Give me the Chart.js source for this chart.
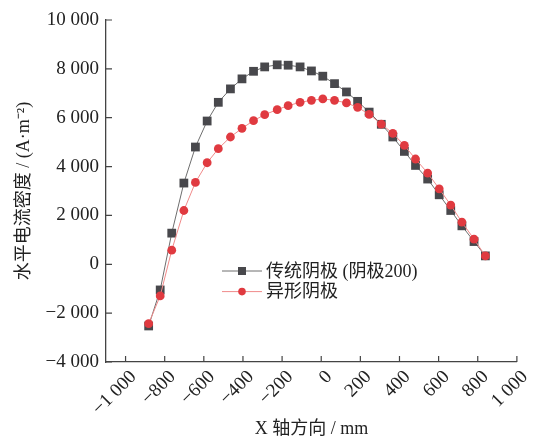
<!DOCTYPE html>
<html><head><meta charset="utf-8">
<script src="https://cdn.jsdelivr.net/npm/chart.js@4.4.0/dist/chart.umd.min.js"></script>
<style>html,body{margin:0;padding:0;background:#fff}#wrap{width:537px;height:441px;position:relative}</style>
</head><body><div id="wrap"><canvas id="c" width="537" height="441"></canvas></div>
<script>
// X positions (mm)
const xPositions = [-882, -823, -764, -702, -643, -583, -526, -464, -405, -346, -289, -225, -169, -108, -50,
  8, 68, 129, 186, 245, 307, 366, 425, 482, 544, 603, 662, 719, 781, 839];
// 传统阴极 (阴极200)
const conventional = [-2525, -1050, 1275, 3325, 4800, 5865, 6630, 7180, 7590, 7900, 8080, 8165, 8150, 8080, 7915,
  7700, 7395, 7055, 6670, 6230, 5730, 5211, 4621, 4047, 3489, 2845, 2202, 1574, 931, 344];
// 异形阴极
const shaped = [-2431, -1296, 578, 2202, 3350, 4157, 4731, 5211, 5564, 5880, 6125, 6330, 6494, 6630, 6712,
  6770, 6712, 6605, 6425, 6140, 5740, 5359, 4867, 4309, 3735, 3091, 2423, 1726, 1029, 344];
const seriesLabels = ['传统阴极 (阴极200)', '异形阴极'];
const xTicks = [-1000, -800, -600, -400, -200, 0, 200, 400, 600, 800, 1000];
const yTicks = [-4000, -2000, 0, 2000, 4000, 6000, 8000, 10000];
const xTitle = 'X 轴方向 / mm';
const yTitle = '水平电流密度 / (A·m⁻²)';

const FONT = "'Liberation Serif', 'Noto Sans CJK SC', serif";
const fmt = v => (v < 0 ? '\u2212' : '') + Math.abs(v).toString().replace(/\B(?=(\d{3})+(?!\d))/g, ' ');
const pts = arr => arr.map((y, i) => ({x: xPositions[i], y}));

const innerTicks = {
  id: 'innerTicks',
  afterDraw(chart) {
    const {ctx, chartArea: a, scales: {x, y}} = chart;
    ctx.save();
    ctx.strokeStyle = '#444';
    ctx.lineWidth = 1.2;
    ctx.beginPath();
    x.ticks.forEach(t => { const p = x.getPixelForValue(t.value); ctx.moveTo(p, a.bottom); ctx.lineTo(p, a.bottom - 6); });
    y.ticks.forEach(t => { const p = y.getPixelForValue(t.value); ctx.moveTo(a.left, p); ctx.lineTo(a.left + 6, p); });
    ctx.stroke();
    ctx.restore();
  }
};

const customLegend = {
  id: 'customLegend',
  afterDraw(chart) {
    const {ctx, chartArea: a} = chart;
    ctx.save();
    chart.data.datasets.forEach((ds, i) => {
      const yy = a.top + 251 + i * 20.6;
      const x0 = a.left + 116, x1 = a.left + 156, xm = (x0 + x1) / 2;
      ctx.strokeStyle = ds.borderColor; ctx.lineWidth = ds.borderWidth;
      ctx.beginPath(); ctx.moveTo(x0, yy); ctx.lineTo(x1, yy); ctx.stroke();
      ctx.fillStyle = ds.pointBackgroundColor;
      ctx.beginPath();
      if (ds.pointStyle === 'rect') { ctx.rect(xm - 4, yy - 4, 8, 8); }
      else { ctx.arc(xm, yy, 3.8, 0, Math.PI * 2); }
      ctx.fill();
      ctx.fillStyle = '#222';
      ctx.font = "18px " + FONT;
      ctx.textBaseline = 'middle';
      ctx.textAlign = 'left';
      ctx.fillText(ds.label, x1 + 4, yy + 1);
    });
    ctx.restore();
  }
};

new Chart(document.getElementById('c'), {
  type: 'line',
  data: {
    datasets: [
      {label: seriesLabels[0], data: pts(conventional), order: 1,
       borderColor: '#6e6e6e', borderWidth: 1, pointStyle: 'rect', pointRadius: 6.2,
       pointBackgroundColor: '#48484c', pointBorderColor: '#48484c', pointBorderWidth: 0, tension: 0},
      {label: seriesLabels[1], data: pts(shaped), order: 0,
       borderColor: '#f08a8a', borderWidth: 1, pointStyle: 'circle', pointRadius: 4.4,
       pointBackgroundColor: '#e03a40', pointBorderColor: '#e03a40', pointBorderWidth: 0, tension: 0}
    ]
  },
  options: {
    responsive: false, animation: false, devicePixelRatio: 1,
    layout: {padding: {top: 20, right: 16, left: 0, bottom: 0}},
    plugins: {legend: {display: false}, tooltip: {enabled: false}},
    scales: {
      x: {
        type: 'linear', min: -1100, max: 1000,
        afterBuildTicks: s => { s.ticks = xTicks.map(v => ({value: v})); },
        afterFit: s => { s.height = 79; },
        grid: {display: true, drawOnChartArea: false, drawTicks: false},
        border: {display: true, color: '#444', width: 1.3},
        ticks: {callback: v => fmt(v), autoSkip: false, minRotation: 45, maxRotation: 45,
                font: {size: 19, family: FONT}, color: '#222', padding: 4, labelOffset: 8},
        title: {display: true, text: xTitle, font: {size: 18, family: FONT}, color: '#222', padding: {top: 0, bottom: 1}}
      },
      y: {
        min: -4000, max: 10000,
        afterBuildTicks: s => { s.ticks = yTicks.map(v => ({value: v})); },
        afterFit: s => { s.width = 106; },
        grid: {display: true, drawOnChartArea: false, drawTicks: false},
        border: {display: true, color: '#444', width: 1.3},
        ticks: {callback: v => fmt(v), font: {size: 19, family: FONT}, color: '#222', padding: 7},
        title: {display: true, text: yTitle, font: {size: 18, family: FONT}, color: '#222', padding: {top: 13, bottom: 0}}
      }
    }
  },
  plugins: [innerTicks, customLegend]
});
</script></body></html>
